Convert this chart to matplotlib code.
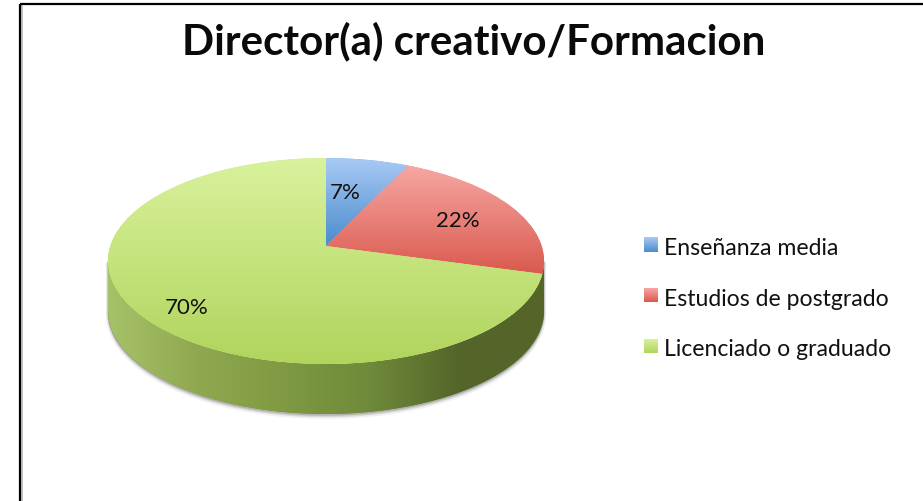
import numpy as np
import matplotlib
matplotlib.use("Agg")
import matplotlib.pyplot as plt
from matplotlib.colors import LinearSegmentedColormap as LSC
from matplotlib.patches import Polygon, Rectangle
from matplotlib.transforms import Transform

title = "Director(a) creativo/Formacion"
categories = ["Enseñanza media", "Estudios de postgrado", "Licenciado o graduado"]
values = [7, 22, 70]
pct_labels = ["7%", "22%", "70%"]

plt.rcParams['font.family'] = ['Lato', 'DejaVu Sans']

W, H = 923, 502
CX, CY, A, B, K = 326.0, 247.0, 215.7, 100.8, 0.1457
DEPTH = 50


class Persp(Transform):
    """Tilted-disc perspective from the unit pie to pixel coordinates."""
    input_dims = output_dims = 2

    def transform_non_affine(self, v):
        v = np.asarray(v, float)
        w = 1 + K * v[:, 1]
        return np.column_stack([CX + A * v[:, 0] / w, CY - B * v[:, 1] / w])


fig = plt.figure(figsize=(W / 100, H / 100), dpi=100, facecolor="white")
ax = fig.add_axes([0, 0, 1, 1])
ax.set_autoscale_on(False)


def gradient(colors, extent, vertical=True, zorder=2):
    n = 256
    ramp = np.linspace(0, 1, n)
    data = ramp[:, None] if vertical else ramp[None, :]
    cmap = LSC.from_list("g", colors)
    return ax.imshow(data, cmap=cmap, extent=extent, aspect="auto", origin="upper",
                     interpolation="bilinear", zorder=zorder)


# rim of the disc, pixels
t = np.linspace(0, 2 * np.pi, 721)
rim = Persp().transform_non_affine(np.column_stack([np.cos(t), np.sin(t)]))
left, right = rim[:, 0].argmin(), rim[:, 0].argmax()
lower = rim[rim[:, 1] >= rim[left, 1] - 1]
lower = lower[np.argsort(lower[:, 0])]
side_pts = np.vstack([lower, (lower + [0, DEPTH])[::-1]])

# soft shadow
for off, a in [(3, .10), (2, .15), (1, .25)]:
    ax.add_patch(Polygon(side_pts + [0, off], closed=True, fc="#808080", ec="#808080",
                         lw=off, alpha=a, zorder=1))

side = Polygon(side_pts, closed=True, fc="#6f8a3a", ec="none", zorder=1.5)
ax.add_patch(side)
im = gradient(["#a6c268", "#90a950", "#7f9a42", "#6f8a3a", "#556629", "#55652a"],
              (108, 545, 420, 250), vertical=False, zorder=1.6)
im.set_clip_path(side)

# top face
wedges, _ = ax.pie(values, startangle=90, counterclock=False, radius=1, frame=True,
                   colors=["#7fb0e6", "#ee8a84", "#c5e584"])
ramps = [(["#a9caf5", "#4a8ccc"], (300, 420, 247, 159)),
         (["#f7a8a5", "#d9584c"], (320, 550, 277, 165)),
         (["#d9f29d", "#b0d45c"], (100, 550, 366, 158))]
for wedge, (cols, ext) in zip(wedges, ramps):
    wedge.set_transform(Persp() + ax.transData)
    wedge.set_edgecolor("none")
    wedge.set_zorder(2)
    g = gradient(cols, ext, zorder=2.1)
    g.set_clip_path(wedge)

# slice labels
for lab, (x, y) in zip(pct_labels, [(345, 193), (458, 221), (187, 308)]):
    ax.text(x, y, lab, fontsize=16, ha="center", va="center", color="#111111", zorder=5)

# legend
for i, (name, cols) in enumerate(zip(categories, [r[0] for r in ramps])):
    y = 246 + i * 50.5
    gradient(cols, (644, 658, y + 7, y - 7), zorder=3)
    ax.text(664, y + 3, name, fontsize=16.6, ha="left", va="center", color="#111111", zorder=5)

ax.text(474, 41, title, fontsize=30.3, fontweight="bold", ha="center", va="center",
        color="#0a0a0a", zorder=5)

# picture frame
ax.plot([20, 20], [H, 4.5], color="black", lw=1.6, zorder=6, solid_capstyle="butt")
ax.plot([20, W], [4.5, 4.5], color="black", lw=1.6, zorder=6, solid_capstyle="butt")
ax.add_patch(Rectangle((21, 6), 2, H, fc="#c4c4c4", ec="none", zorder=5.5))

ax.set_xlim(0, W)
ax.set_ylim(H, 0)
ax.set_aspect("auto")
ax.axis("off")
fig.savefig("out.png", dpi=100)
